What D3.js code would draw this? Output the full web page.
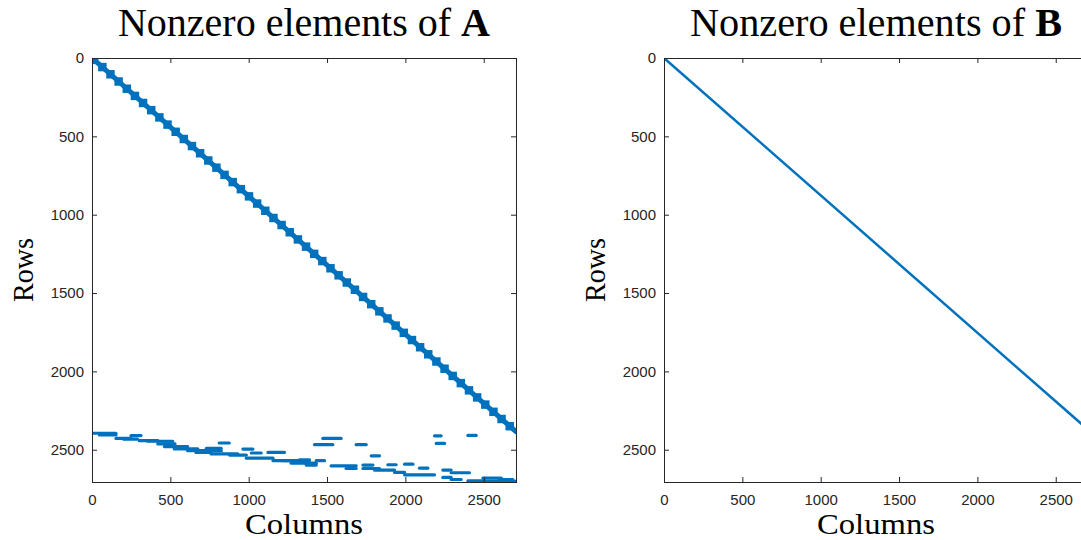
<!DOCTYPE html>
<html>
<head>
<meta charset="utf-8">
<script src="https://cdn.jsdelivr.net/npm/d3@7"></script>
<style>
    body { margin: 0; background: #fff; }
</style>
</head>
<body>
<div id="chart"></div>
<script>
// Matrix size and tick labels
const matrixSize = 2706;
const axisTicks = [0, 500, 1000, 1500, 2000, 2500];

// A: diagonal blocks (column, row of block centre)
const blockColsA = [14, 66, 118, 170, 222, 274, 326, 378, 430, 482, 534, 586, 638, 690, 742, 794, 846, 898,
    950, 1002, 1054, 1106, 1158, 1210, 1262, 1314, 1366, 1418, 1470, 1522, 1574, 1626, 1678, 1730, 1782,
    1834, 1886, 1938, 1990, 2042, 2094, 2146, 2198, 2250, 2302, 2354, 2406, 2458, 2510, 2562, 2614, 2666];
const blockRowsA = [12, 58, 104, 150, 196, 242, 287, 333, 379, 425, 471, 517, 562, 608, 654, 700, 746, 792,
    837, 883, 929, 975, 1021, 1066, 1112, 1158, 1204, 1250, 1296, 1342, 1387, 1433, 1479, 1525, 1571,
    1617, 1662, 1708, 1754, 1800, 1846, 1891, 1937, 1983, 2029, 2075, 2121, 2166, 2212, 2258, 2304, 2350];
const diagStartA = [0, 0];
const diagEndA = [2706, 2385];

// A: coupling rows at the bottom [row, first column, last column]
const couplingA = [
    [2395, 0, 153], [2406, 47, 153], [2428, 153, 249], [2410, 249, 313], [2432, 200, 290],
    [2442, 302, 420], [2446, 355, 515], [2463, 420, 530], [2480, 462, 610], [2495, 525, 675],
    [2506, 610, 825], [2491, 730, 825], [2517, 664, 760], [2527, 760, 930], [2457, 812, 876],
    [2534, 878, 985], [2496, 963, 1027], [2521, 1017, 1080], [2554, 985, 1155], [2517, 1123, 1228],
    [2570, 1155, 1260], [2570, 1218, 1388], [2586, 1271, 1431], [2564, 1324, 1388], [2598, 1367, 1431],
    [2570, 1431, 1484], [2468, 1420, 1537], [2428, 1473, 1590], [2603, 1526, 1686], [2620, 1622, 1686],
    [2468, 1686, 1750], [2598, 1729, 1793], [2620, 1729, 1835], [2539, 1782, 1835], [2630, 1803, 1931],
    [2596, 1888, 1941], [2645, 1931, 1995], [2592, 1995, 2048], [2660, 1995, 2186], [2618, 2090, 2143],
    [2411, 2186, 2228], [2460, 2197, 2250], [2630, 2239, 2292], [2677, 2239, 2292], [2647, 2292, 2409],
    [2690, 2292, 2356], [2409, 2399, 2452], [2698, 2399, 2505], [2681, 2495, 2612], [2702, 2505, 2706],
    [2690, 2601, 2686]
];

// B: a single diagonal
const diagStartB = [0, 0];
const diagEndB = [2706, 2372];

const blue = "#0072BD";
const axisColor = "#262626";

const svg = d3.select("#chart")
    .append("svg")
    .attr("width", 1081)
    .attr("height", 540)
    .style("display", "block");

function createSpyPlot(cfg) {
    const top = 58, bottom = 482;
    const x = d3.scaleLinear().domain([0, matrixSize]).range([cfg.left, cfg.left + 424]);
    const y = d3.scaleLinear().domain([0, matrixSize]).range([top, bottom]);

    const g = svg.append("g");

    // Clip
    g.append("clipPath").attr("id", cfg.id + "-clip")
        .append("rect")
        .attr("x", cfg.left).attr("y", top)
        .attr("width", 424).attr("height", bottom - top);

    const marks = g.append("g").attr("clip-path", `url(#${cfg.id}-clip)`);

    // Diagonal
    marks.append("line")
        .attr("x1", x(cfg.diagStart[0])).attr("y1", y(cfg.diagStart[1]))
        .attr("x2", x(cfg.diagEnd[0])).attr("y2", y(cfg.diagEnd[1]))
        .attr("stroke", blue)
        .attr("stroke-width", cfg.diagWidth)
        .attr("stroke-linecap", "round");

    // Blocks
    const half = 27;
    marks.selectAll(".block")
        .data(cfg.blockCols.map((c, i) => [c, cfg.blockRows[i]]))
        .join("rect")
        .attr("class", "block")
        .attr("x", d => x(d[0] - half))
        .attr("y", d => y(d[1] - half))
        .attr("width", d => x(d[0] + half) - x(d[0] - half))
        .attr("height", d => y(d[1] + half) - y(d[1] - half))
        .attr("fill", blue);

    // Coupling rows
    marks.selectAll(".dash")
        .data(cfg.dashes)
        .join("line")
        .attr("class", "dash")
        .attr("x1", d => x(d[1])).attr("x2", d => x(d[2]))
        .attr("y1", d => y(d[0])).attr("y2", d => y(d[0]))
        .attr("stroke", blue)
        .attr("stroke-width", 3.2)
        .attr("stroke-linecap", "round");

    // Achsen
    const styleAxis = sel => {
        sel.select(".domain").remove();
        sel.selectAll("line").attr("stroke", axisColor);
        sel.selectAll("text")
            .attr("fill", axisColor)
            .style("font-family", "Liberation Sans, Arial, sans-serif")
            .style("font-size", "15px");
    };
    const fmt = d3.format("d");

    g.append("g")
        .attr("transform", `translate(0,${bottom})`)
        .call(d3.axisBottom(x).tickValues(axisTicks).tickFormat(fmt)
            .tickSizeInner(-5).tickSizeOuter(0).tickPadding(12))
        .call(styleAxis);
    g.append("g")
        .attr("transform", `translate(0,${top})`)
        .call(d3.axisTop(x).tickValues(axisTicks).tickSizeInner(-5).tickSizeOuter(0).tickFormat(() => ""))
        .call(styleAxis);
    g.append("g")
        .attr("transform", `translate(${cfg.left},0)`)
        .call(d3.axisLeft(y).tickValues(axisTicks).tickFormat(fmt)
            .tickSizeInner(-5).tickSizeOuter(0).tickPadding(8))
        .call(styleAxis);
    g.append("g")
        .attr("transform", `translate(${cfg.left + 424},0)`)
        .call(d3.axisRight(y).tickValues(axisTicks).tickSizeInner(-5).tickSizeOuter(0).tickFormat(() => ""))
        .call(styleAxis);

    // Box
    g.append("rect")
        .attr("x", cfg.left + 0.5).attr("y", top + 0.5)
        .attr("width", 424).attr("height", bottom - top)
        .attr("fill", "none")
        .attr("stroke", axisColor)
        .attr("stroke-width", 1);

    const cx = cfg.left + 212;

    // Titel
    const title = g.append("text")
        .attr("x", cx).attr("y", 36)
        .attr("text-anchor", "middle")
        .attr("textLength", 372)
        .attr("lengthAdjust", "spacingAndGlyphs")
        .style("font-family", "Liberation Serif, serif")
        .style("font-size", "40px")
        .attr("fill", "#000");
    title.append("tspan").text("Nonzero elements of ");
    title.append("tspan").attr("font-weight", "bold").text(cfg.letter);

    // Achsenbeschriftung
    g.append("text")
        .attr("x", cx).attr("y", 534)
        .attr("text-anchor", "middle")
        .attr("textLength", 118)
        .attr("lengthAdjust", "spacingAndGlyphs")
        .style("font-family", "Liberation Serif, serif")
        .style("font-size", "30px")
        .text("Columns");

    g.append("text")
        .attr("transform", `translate(${cfg.left - 59},270) rotate(-90)`)
        .attr("text-anchor", "middle")
        .attr("textLength", 64)
        .attr("lengthAdjust", "spacingAndGlyphs")
        .style("font-family", "Liberation Serif, serif")
        .style("font-size", "30px")
        .text("Rows");
}

createSpyPlot({
    id: "a", letter: "A", left: 92,
    diagStart: diagStartA, diagEnd: diagEndA, diagWidth: 5,
    blockCols: blockColsA, blockRows: blockRowsA, dashes: couplingA
});

createSpyPlot({
    id: "b", letter: "B", left: 664,
    diagStart: diagStartB, diagEnd: diagEndB, diagWidth: 2.5,
    blockCols: [], blockRows: [], dashes: []
});
</script>
</body>
</html>
